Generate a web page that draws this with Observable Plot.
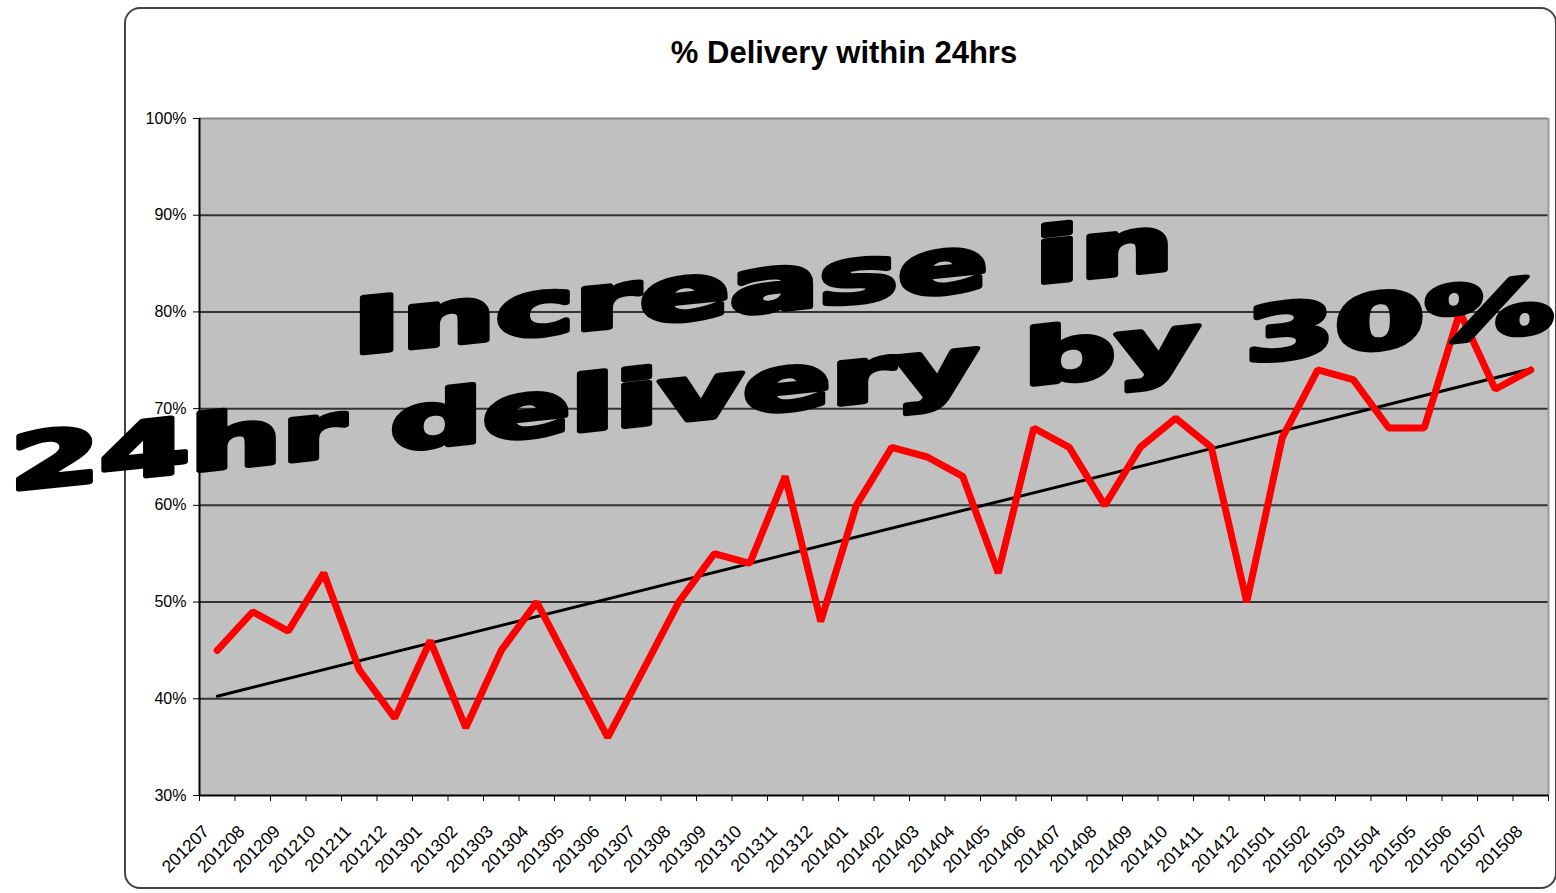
<!DOCTYPE html>
<html><head><meta charset="utf-8">
<script src="https://cdn.jsdelivr.net/npm/d3@7"></script>
<script src="https://cdn.jsdelivr.net/npm/@observablehq/plot@0.6"></script>
<style>
html,body{margin:0;padding:0;background:#fff;}
#wrap{position:relative;width:1556px;height:893px;overflow:hidden;}
#border{position:absolute;left:124px;top:7px;width:1429px;height:878px;border:2px solid #444;border-radius:16px;}
#chart{position:absolute;left:0;top:0;}
</style></head><body>
<div id="wrap"><div id="border"></div><div id="chart"></div></div>
<script>
const months = ["201207","201208","201209","201210","201211","201212",
  "201301","201302","201303","201304","201305","201306","201307","201308","201309","201310","201311","201312",
  "201401","201402","201403","201404","201405","201406","201407","201408","201409","201410","201411","201412",
  "201501","201502","201503","201504","201505","201506","201507","201508"];
const values = [45,49,47,53,43,38,46,37,45,50,43,36,43,50,55,54,63,48,60,66,65,63,53,68,66,60,66,69,66,50,67,74,73,68,68,80,72,74];
const yTicks = [30,40,50,60,70,80,90,100];
const gridTicks = [40,50,60,70,80,90];
const titleText = "% Delivery within 24hrs";
const annotationLines = ["Increase in", "24hr delivery by 30%"];

const idx = values.map((d, i) => i);
const xm = d3.mean(idx), ym = d3.mean(values);
const slope = d3.sum(idx, i => (i - xm) * (values[i] - ym)) / d3.sum(idx, i => (i - xm) ** 2);
const trend = [0, values.length - 1].map(i => ({i, v: ym + slope * (i - xm)}));
const series = values.map((v, i) => ({i, v}));
const edges = d3.range(-0.5, values.length, 1);

const plot = Plot.plot({
  width: 1556, height: 893,
  marginLeft: 199, marginRight: 8, marginTop: 118, marginBottom: 98,
  style: {fontFamily: "'Liberation Sans', Arial, sans-serif", fontSize: "16px", background: "transparent", overflow: "visible", color: "#000"},
  x: {type: "linear", domain: [-0.5, values.length - 0.5], axis: null},
  y: {domain: [30, 100], axis: null},
  marks: [
    Plot.frame({fill: "#c0c0c0"}),
    Plot.ruleY(gridTicks, {stroke: "#333", strokeWidth: 2}),
    Plot.ruleY([100], {stroke: "#888", strokeWidth: 2}),
    Plot.ruleX([values.length - 0.5], {stroke: "#999", strokeWidth: 2}),
    Plot.ruleX([-0.5], {stroke: "#000", strokeWidth: 2}),
    Plot.ruleY([30], {stroke: "#000", strokeWidth: 2}),
    Plot.axisY(yTicks, {tickSize: 6, tickPadding: 7, tickFormat: d => d + "%", fontSize: 16, label: null}),
    Plot.axisX(edges, {tickSize: 6, tickFormat: () => "", label: null}),
    Plot.text(months, {x: (d, i) => i, frameAnchor: "bottom", dx: -7, dy: 37, rotate: -45, textAnchor: "end", lineAnchor: "bottom", fontSize: 17.5}),
    Plot.line(trend, {x: "i", y: "v", stroke: "#000", strokeWidth: 3}),
    Plot.line(series, {x: "i", y: "v", stroke: "#ff0000", strokeWidth: 7, strokeLinejoin: "bevel"}),
    Plot.text([titleText], {frameAnchor: "top", dx: -30, dy: -56, lineAnchor: "bottom", fontSize: 31, fontWeight: "bold"})
  ]
});
document.getElementById("chart").appendChild(plot);

// big skewed annotation drawn over the chart
const annotationLayout = [
  {x: 352, y: 354, len: 822},
  {x: 10, y: 490, len: 1544}
];
const ag = d3.select(plot).append("g")
  .attr("font-family", "'DejaVu Sans', sans-serif")
  .attr("font-weight", "bold")
  .attr("font-size", 76)
  .attr("text-anchor", "start")
  .attr("fill", "#000")
  .attr("stroke", "#000")
  .attr("stroke-width", 5)
  .attr("stroke-linejoin", "round");
annotationLines.forEach((t, k) => {
  const L = annotationLayout[k];
  ag.append("text")
    .attr("transform", `translate(${L.x},${L.y}) skewY(-5.9)`)
    .attr("text-anchor", "start")
    .attr("textLength", L.len)
    .attr("lengthAdjust", "spacingAndGlyphs")
    .text(t);
});
</script>
</body></html>
